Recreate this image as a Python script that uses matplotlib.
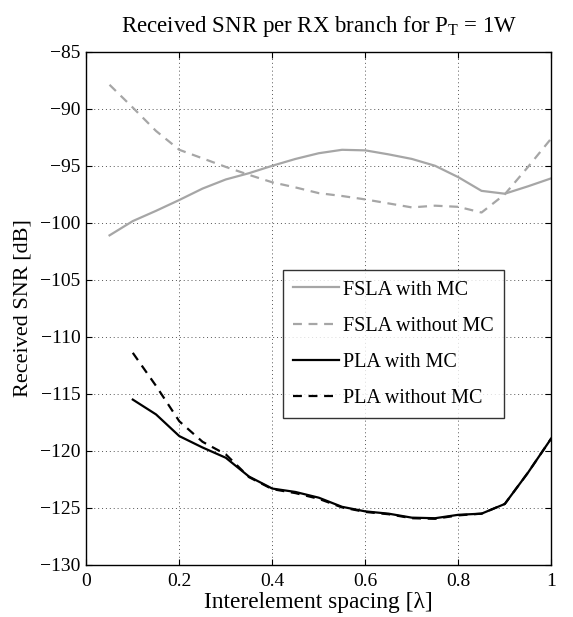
import matplotlib
matplotlib.use("Agg")
import matplotlib.pyplot as plt
import numpy as np

plt.rcParams['font.family'] = ['Liberation Serif', 'DejaVu Serif']
plt.rcParams['mathtext.fontset'] = 'custom'
plt.rcParams['mathtext.rm'] = 'Liberation Serif'
plt.rcParams['mathtext.it'] = 'Liberation Serif:italic'
plt.rcParams['axes.unicode_minus'] = True

x_fsla = [0.05, 0.1, 0.15, 0.2, 0.25, 0.3, 0.35, 0.4, 0.45, 0.5, 0.55, 0.6, 0.65,
          0.7, 0.75, 0.8, 0.85, 0.9, 0.95, 1.0]
fsla_mc = [-101.1, -99.85, -98.95, -98.0, -97.0, -96.2, -95.65, -95.0, -94.4, -93.9,
           -93.6, -93.65, -94.0, -94.4, -95.0, -96.0, -97.2, -97.45, -96.8, -96.1]
fsla_nomc = [-87.9, -89.9, -91.95, -93.6, -94.35, -95.1, -95.8, -96.45, -96.9, -97.4,
             -97.65, -97.95, -98.3, -98.65, -98.5, -98.6, -99.1, -97.5, -95.1, -92.6]

x_pla = [0.1, 0.15, 0.2, 0.25, 0.3, 0.35, 0.4, 0.45, 0.5, 0.55, 0.6, 0.65, 0.7,
         0.75, 0.8, 0.85, 0.9, 0.95, 1.0]
pla_mc = [-115.5, -116.8, -118.7, -119.7, -120.6, -122.25, -123.3, -123.6, -124.1,
          -124.9, -125.3, -125.5, -125.85, -125.9, -125.6, -125.5, -124.65, -121.9, -118.9]
pla_nomc = [-111.4, -114.3, -117.4, -119.2, -120.3, -122.3, -123.35, -123.7, -124.2,
            -124.95, -125.35, -125.55, -125.9, -125.95, -125.65, -125.5, -124.65, -121.9, -118.9]

labels = ['FSLA with MC', 'FSLA without MC', 'PLA with MC', 'PLA without MC']
xticks = [0, 0.2, 0.4, 0.6, 0.8, 1]
yticks = [-130, -125, -120, -115, -110, -105, -100, -95, -90, -85]

gray = '#a6a6a6'
fig = plt.figure(figsize=(5.73, 6.17), dpi=100)
ax = fig.add_axes([0.1506, 0.0843, 0.8115, 0.8319])

ax.plot(x_fsla, fsla_mc, color=gray, lw=1.6, ls='-', label=labels[0])
ax.plot(x_fsla, fsla_nomc, color=gray, lw=1.6, ls=(0, (4, 3)), label=labels[1])
ax.plot(x_pla, pla_mc, color='black', lw=1.6, ls='-', label=labels[2])
ax.plot(x_pla, pla_nomc, color='black', lw=1.6, ls=(0, (4, 3)), label=labels[3])

ax.set_xlim(0, 1)
ax.set_ylim(-130, -85)
ax.set_xticks(xticks)
ax.set_xticklabels(['0', '0.2', '0.4', '0.6', '0.8', '1'])
ax.set_yticks(yticks)
ax.set_yticklabels(['\u2212%d' % (-v) for v in yticks])
ax.tick_params(direction='in', top=True, right=True, labelsize=14, length=4)
ax.tick_params(axis='y', pad=4)
ax.tick_params(axis='x', pad=6)
ax.grid(True, color='#555555', ls=(0, (1, 3)), lw=0.7)
for s in ax.spines.values():
    s.set_linewidth(1.0)

ax.set_title('Received SNR per RX branch for P$_\\mathrm{T}$ = 1W', fontsize=16.5, pad=14)
ax.set_xlabel('Interelement spacing [\u03bb]', fontsize=16.8, labelpad=1.5)
ax.set_ylabel('Received SNR [dB]', fontsize=16, labelpad=5.5)

leg = ax.legend(loc='upper left', bbox_to_anchor=(0.422, 0.574), fontsize=14.5,
                frameon=True, fancybox=False, edgecolor='black', handlelength=2.3,
                labelspacing=0.85, borderpad=0.5, handletextpad=0.2, borderaxespad=0)
leg.get_frame().set_linewidth(1.0)

fig.savefig('out.png', dpi=100)
